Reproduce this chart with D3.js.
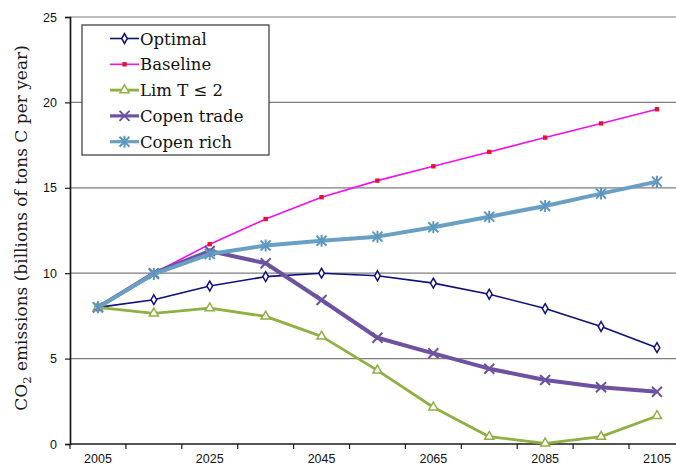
<!DOCTYPE html>
<html>
<head>
<meta charset="utf-8">
<script src="https://d3js.org/d3.v7.min.js"></script>
<style>
  body { margin: 0; background: #fff; }
  svg { display: block; }
</style>
</head>
<body>
<div id="chart"></div>
<script>
var years = [2005, 2015, 2025, 2035, 2045, 2055, 2065, 2075, 2085, 2095, 2105];
var yTicks = [0, 5, 10, 15, 20, 25];
var xLabels = [2005, 2025, 2045, 2065, 2085, 2105];

var optimal = [8.0, 8.45, 9.25, 9.8, 10.0, 9.85, 9.42, 8.77, 7.93, 6.88, 5.64];
var baseline = [8.0, 10.0, 11.7, 13.17, 14.45, 15.42, 16.26, 17.1, 17.94, 18.77, 19.6];
var limT = [8.0, 7.65, 7.95, 7.47, 6.3, 4.31, 2.15, 0.43, 0.04, 0.43, 1.64];
var copenTrade = [8.0, 10.0, 11.3, 10.58, 8.43, 6.22, 5.31, 4.41, 3.75, 3.32, 3.06];
var copenRich = [8.0, 9.95, 11.12, 11.62, 11.9, 12.14, 12.69, 13.31, 13.93, 14.66, 15.36];

var seriesNames = ["Optimal", "Baseline", "Lim T \u2264 2", "Copen trade", "Copen rich"];

var chartW = 676, chartH = 470,
    plotLeft = 70, plotTop = 17, plotBottom = 444,
    band = 55.9; // category width in px

var svg = d3.select("#chart").append("svg")
    .attr("width", chartW)
    .attr("height", chartH);

var x = d3.scaleBand()
    .domain(years)
    .range([plotLeft, plotLeft + band * years.length])
    .paddingInner(0).paddingOuter(0);
var y = d3.scaleLinear().domain([0, 25]).range([plotBottom, plotTop]);

function cx(d) { return x(d) + x.bandwidth() / 2; }

// gridlines
svg.append("g")
    .selectAll("line")
    .data(yTicks.filter(function (d) { return d > 0; }))
    .join("line")
    .attr("x1", plotLeft).attr("x2", chartW)
    .attr("y1", function (d) { return y(d); })
    .attr("y2", function (d) { return y(d); })
    .attr("stroke", "#7e7e7e")
    .attr("stroke-width", 1.2);

// y axis
var yAxis = svg.append("g")
    .attr("transform", "translate(" + plotLeft + ",0)")
    .call(d3.axisLeft(y).tickValues(yTicks).tickSize(5).tickPadding(8));
yAxis.select(".domain").attr("stroke", "#1a1a1a").attr("stroke-width", 1.7);
yAxis.selectAll(".tick line").attr("stroke", "#1a1a1a").attr("stroke-width", 1.2);
yAxis.selectAll("text")
    .attr("font-family", "Liberation Sans, Arial, sans-serif")
    .attr("font-size", 12.5).attr("fill", "#111");

// x axis (ticks between categories)
var xg = svg.append("g").attr("transform", "translate(0," + plotBottom + ")");
xg.append("line")
    .attr("x1", plotLeft).attr("x2", chartW)
    .attr("stroke", "#1a1a1a").attr("stroke-width", 1.7);
xg.selectAll("line.tk")
    .data(years.concat(["end"]))
    .join("line")
    .attr("class", "tk")
    .attr("x1", function (d, i) { return plotLeft + i * x.bandwidth(); })
    .attr("x2", function (d, i) { return plotLeft + i * x.bandwidth(); })
    .attr("y1", 0).attr("y2", 5)
    .attr("stroke", "#1a1a1a").attr("stroke-width", 1.2);
xg.selectAll("text")
    .data(xLabels)
    .join("text")
    .attr("x", function (d) { return cx(d); })
    .attr("y", 19)
    .attr("text-anchor", "middle")
    .attr("font-family", "Liberation Sans, Arial, sans-serif")
    .attr("font-size", 12.5).attr("fill", "#111")
    .text(function (d) { return d; });

// y title
var title = svg.append("text")
    .attr("transform", "translate(27,228) rotate(-90)")
    .attr("text-anchor", "middle")
    .attr("font-family", "DejaVu Serif, Liberation Serif, serif")
    .attr("font-size", 17)
    .attr("fill", "#1a1a1a");
title.append("tspan").text("CO");
title.append("tspan").attr("font-size", 11.5).attr("dy", 4).text("2");
title.append("tspan").attr("dy", -4).text(" emissions (billions of tons C per year)");

// markers
function diamond(g, c) {
    g.append("path").attr("d", d3.symbol(d3.symbolDiamond, 28)())
        .attr("fill", "#fff").attr("stroke", c).attr("stroke-width", 1.5);
}
function square(g, c) {
    g.append("rect").attr("x", -2.2).attr("y", -2.2).attr("width", 4.4).attr("height", 4.4)
        .attr("fill", "#e2142e");
}
function triangle(g, c) {
    g.append("path").attr("d", d3.symbol(d3.symbolTriangle, 36)())
        .attr("fill", "#fff").attr("stroke", c).attr("stroke-width", 1.5);
}
function cross(g, c) {
    g.append("path").attr("d", "M-5,-5L5,5M-5,5L5,-5")
        .attr("stroke", c).attr("stroke-width", 2);
}
function star(g, c) {
    g.append("path").attr("d", "M-5,-5L5,5M-5,5L5,-5M0,-6L0,6")
        .attr("stroke", c).attr("stroke-width", 2);
}

var series = [
    {name: seriesNames[0], values: optimal, color: "#10107a", width: 1.6, marker: diamond, mc: "#10107a"},
    {name: seriesNames[1], values: baseline, color: "#f010f0", width: 1.6, marker: square, mc: "#e2142e"},
    {name: seriesNames[2], values: limT, color: "#8fb043", width: 2.8, marker: triangle, mc: "#8fb043"},
    {name: seriesNames[3], values: copenTrade, color: "#6c52a0", width: 4, marker: cross, mc: "#6c52a0"},
    {name: seriesNames[4], values: copenRich, color: "#6a9fc4", width: 4, marker: star, mc: "#5b97c0"}
];

var line = d3.line()
    .x(function (d, i) { return cx(years[i]); })
    .y(function (d) { return y(d); });

series.forEach(function (s) {
    var g = svg.append("g");
    g.append("path")
        .attr("d", line(s.values))
        .attr("fill", "none")
        .attr("stroke", s.color)
        .attr("stroke-width", s.width)
        .attr("stroke-linejoin", "round");
    g.selectAll("g.pt")
        .data(s.values)
        .join("g")
        .attr("class", "pt")
        .attr("transform", function (d, i) { return "translate(" + cx(years[i]) + "," + y(d) + ")"; })
        .each(function () { s.marker(d3.select(this), s.mc); });
});

// legend
var legend = svg.append("g");
legend.append("rect")
    .attr("x", 82).attr("y", 25).attr("width", 187).attr("height", 130)
    .attr("fill", "#fff").attr("stroke", "#444").attr("stroke-width", 1.3);
series.forEach(function (s, i) {
    var ly = 38.5 + i * 25.8;
    var g = legend.append("g");
    g.append("line")
        .attr("x1", 110).attr("x2", 139)
        .attr("y1", ly).attr("y2", ly)
        .attr("stroke", s.color).attr("stroke-width", Math.min(s.width, 3.2));
    var m = g.append("g").attr("transform", "translate(124.5," + ly + ")");
    s.marker(m, s.mc);
    g.append("text")
        .attr("x", 140).attr("y", ly + 6)
        .attr("font-family", "DejaVu Serif, Liberation Serif, serif")
        .attr("font-size", 16.5)
        .attr("fill", "#111")
        .text(s.name);
});
</script>
</body>
</html>
